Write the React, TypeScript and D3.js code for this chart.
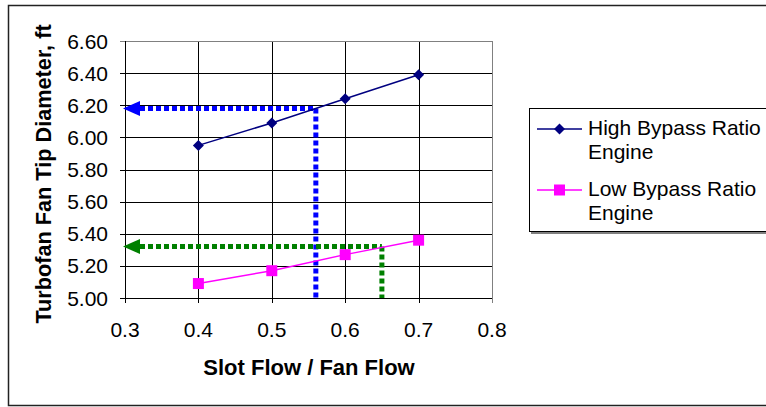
import React from "react";
import * as d3 from "d3";

const xValues = [0.4, 0.5, 0.6, 0.7];
const highBypass = [5.95, 6.09, 6.24, 6.39];
const lowBypass = [5.09, 5.17, 5.27, 5.36];
const xTicks = [0.3, 0.4, 0.5, 0.6, 0.7, 0.8];
const yTicks = [5.0, 5.2, 5.4, 5.6, 5.8, 6.0, 6.2, 6.4, 6.6];
const blueGuide = { x: 0.56, y: 6.18 };
const greenGuide = { x: 0.65, y: 5.32 };
const seriesNames = ["High Bypass Ratio", "Low Bypass Ratio"];

const W = 766;
const H = 407;
const plot = { left: 125, right: 492, top: 41, bottom: 298 };
const FONT = "'Liberation Sans', Arial, sans-serif";

export default function App() {
  const x = d3.scaleLinear().domain([0.3, 0.8]).range([plot.left, plot.right]);
  const y = d3.scaleLinear().domain([5.0, 6.6]).range([plot.bottom, plot.top]);
  const line = d3
    .line<[number, number]>()
    .x((d) => x(d[0]))
    .y((d) => y(d[1]));
  const highPts: [number, number][] = xValues.map((v, i) => [v, highBypass[i]]);
  const lowPts: [number, number][] = xValues.map((v, i) => [v, lowBypass[i]]);

  const guide = (g: { x: number; y: number }, color: string, key: string) => {
    const gx = x(g.x);
    const gy = y(g.y);
    const tip = plot.left - 2;
    const base = tip + 17;
    return (
      <g key={key}>
        <line
          x1={base}
          x2={gx}
          y1={gy}
          y2={gy}
          stroke={color}
          strokeWidth={5}
          strokeDasharray="5 3"
        />
        <line
          x1={gx}
          x2={gx}
          y1={gy}
          y2={plot.bottom}
          stroke={color}
          strokeWidth={5}
          strokeDasharray="5 3"
        />
        <path
          d={`M${tip},${gy} L${base},${gy - 7.5} L${base},${gy + 7.5} Z`}
          fill={color}
        />
      </g>
    );
  };

  const diamond = (cx: number, cy: number, r: number) =>
    `M${cx},${cy - r} L${cx + r},${cy} L${cx},${cy + r} L${cx - r},${cy} Z`;

  const legendX = 529;
  const legendY = 108;

  return (
    <svg
      width={W}
      height={H}
      style={{ position: "absolute", left: 0, top: 0, fontFamily: FONT }}
    >
      <rect x={0} y={0} width={W} height={H} fill="#fff" />
      <rect
        x={8.5}
        y={5.5}
        width={W + 10}
        height={400}
        fill="#fff"
        stroke="#222"
        strokeWidth={1.5}
      />

      {/* gridlines */}
      {yTicks.map((t) => (
        <line
          key={"gy" + t}
          x1={plot.left - 5}
          x2={plot.right}
          y1={Math.round(y(t)) + 0.5}
          y2={Math.round(y(t)) + 0.5}
          stroke={t === 6.6 ? "#808080" : "#000"}
          strokeWidth={1}
        />
      ))}
      {xTicks.map((t) => (
        <line
          key={"gx" + t}
          x1={Math.round(x(t)) + 0.5}
          x2={Math.round(x(t)) + 0.5}
          y1={plot.top}
          y2={plot.bottom + 5}
          stroke={t === 0.8 ? "#808080" : "#000"}
          strokeWidth={1}
        />
      ))}
      <rect
        x={plot.left + 0.5}
        y={plot.top + 0.5}
        width={plot.right - plot.left}
        height={plot.bottom - plot.top}
        fill="none"
        stroke="#808080"
        strokeWidth={1}
      />
      <line
        x1={plot.left + 0.5}
        x2={plot.left + 0.5}
        y1={plot.top}
        y2={plot.bottom + 5}
        stroke="#000"
      />
      <line
        x1={plot.left - 5}
        x2={plot.right}
        y1={plot.bottom + 0.5}
        y2={plot.bottom + 0.5}
        stroke="#000"
      />

      {/* tick labels */}
      {yTicks.map((t) => (
        <text
          key={"ty" + t}
          x={108}
          y={y(t)}
          dy="0.36em"
          textAnchor="end"
          fontSize={21}
          fill="#000"
        >
          {t.toFixed(2)}
        </text>
      ))}
      {xTicks.map((t) => (
        <text
          key={"tx" + t}
          x={x(t)}
          y={337}
          textAnchor="middle"
          fontSize={21}
          fill="#000"
        >
          {t.toFixed(1)}
        </text>
      ))}

      {/* guides */}
      {guide(blueGuide, "#0000FF", "b")}
      {guide(greenGuide, "#008000", "g")}

      {/* series */}
      <path d={line(highPts) || ""} fill="none" stroke="#000080" strokeWidth={1.5} />
      {highPts.map((p, i) => (
        <path key={"h" + i} d={diamond(x(p[0]), y(p[1]), 5.5)} fill="#000080" />
      ))}
      <path d={line(lowPts) || ""} fill="none" stroke="#FF00FF" strokeWidth={1.5} />
      {lowPts.map((p, i) => (
        <rect
          key={"l" + i}
          x={x(p[0]) - 5.5}
          y={y(p[1]) - 5.5}
          width={11}
          height={11}
          fill="#FF00FF"
        />
      ))}

      {/* axis titles */}
      <text
        x={309}
        y={375}
        textAnchor="middle"
        fontSize={22}
        fontWeight="bold"
        fill="#000"
      >
        Slot Flow / Fan Flow
      </text>
      <text
        transform={`translate(51,174) rotate(-90)`}
        textAnchor="middle"
        fontSize={21.7}
        fontWeight="bold"
        fill="#000"
      >
        Turbofan Fan Tip Diameter, ft
      </text>

      {/* legend */}
      <rect x={legendX + 2} y={legendY + 2} width={300} height={124} fill="#808080" />
      <rect
        x={legendX + 0.5}
        y={legendY + 0.5}
        width={300}
        height={123}
        fill="#fff"
        stroke="#000"
        strokeWidth={1}
      />
      <line x1={537} x2={582} y1={129} y2={129} stroke="#000080" strokeWidth={1.5} />
      <path d={diamond(559.5, 129, 5.5)} fill="#000080" />
      <text x={588} y={135} fontSize={21} fill="#000">
        {seriesNames[0]}
      </text>
      <text x={588} y={159} fontSize={21} fill="#000">
        Engine
      </text>
      <line x1={537} x2={582} y1={190} y2={190} stroke="#FF00FF" strokeWidth={1.5} />
      <rect x={554} y={184.5} width={11} height={11} fill="#FF00FF" />
      <text x={588} y={196} fontSize={21} fill="#000">
        {seriesNames[1]}
      </text>
      <text x={588} y={220} fontSize={21} fill="#000">
        Engine
      </text>
    </svg>
  );
}
